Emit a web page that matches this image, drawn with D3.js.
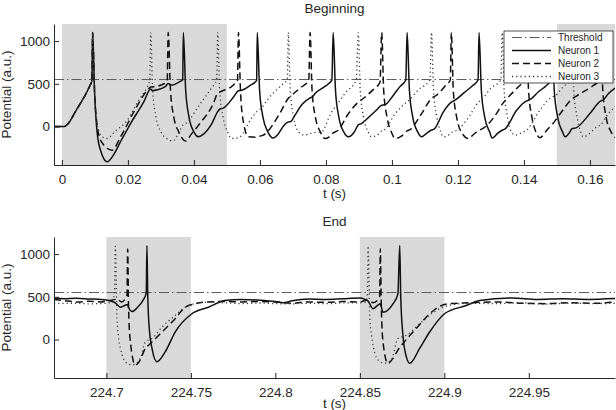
<!DOCTYPE html>
<html>
<head>
<meta charset="utf-8">
<script src="https://cdn.jsdelivr.net/npm/d3@7"></script>
<style>
  body { margin: 0; background: #fff; }
  svg { font-family: "Liberation Sans", Arial, Helvetica, sans-serif; }
</style>
</head>
<body>
<svg id="chart" width="616" height="410"></svg>
<script>
// Values: [t (s), potential (a.u.)]
var threshold = 550;
var yTicks = [0, 500, 1000];
var yTickLabels = ["0", "500", "1000"];

var begTicks = [0, 0.02, 0.04, 0.06, 0.08, 0.1, 0.12, 0.14, 0.16];
var begTickLabels = ["0", "0.02", "0.04", "0.06", "0.08", "0.1", "0.12", "0.14", "0.16"];
var begShade = [[0, 0.05], [0.15, 0.1676]];

var endTicks = [224.7, 224.75, 224.8, 224.85, 224.9, 224.95];
var endTickLabels = ["224.7", "224.75", "224.8", "224.85", "224.9", "224.95"];
var endShade = [[224.7, 224.75], [224.85, 224.9]];

var begNeuron1 = [
  [-0.0024, 0], [0.0005, 0], [0.002, 40], [0.004, 170], [0.0065, 330], [0.0085, 480], [0.0091, 540],
  [0.0093, 1100], [0.0099, 400], [0.0107, -80], [0.0118, -290], [0.0137, -413], [0.0155, -340],
  [0.018, -160], [0.0208, 35], [0.0248, 289], [0.0269, 440], [0.0274, 420], [0.0289, 430],
  [0.0314, 470], [0.0322, 505], [0.0329, 488], [0.0336, 485], [0.0352, 515], [0.0366, 548],
  [0.0368, 1100], [0.0375, 425], [0.0385, 113], [0.04, -62], [0.0413, -118], [0.043, -85],
  [0.0455, 40], [0.0472, 175], [0.0479, 205], [0.0489, 215], [0.052, 345], [0.0535, 420],
  [0.0545, 425], [0.057, 480], [0.059, 540],
  [0.0592, 1100], [0.0599, 425], [0.0609, 113], [0.0624, -62], [0.064, -135], [0.0655, -90],
  [0.0672, 10], [0.0686, 55], [0.0694, 60], [0.0706, 132], [0.0728, 260], [0.0752, 335],
  [0.076, 350], [0.0767, 386], [0.0795, 465], [0.0818, 542],
  [0.0822, 1100], [0.0829, 425], [0.0839, 113], [0.0854, -62], [0.0868, -120], [0.0885, -70],
  [0.0898, 20], [0.0908, 35], [0.093, 110], [0.0955, 200], [0.0969, 250], [0.0979, 255],
  [0.1005, 370], [0.1025, 470], [0.1042, 545],
  [0.1046, 1100], [0.1053, 425], [0.1063, 113], [0.1078, -62], [0.109, -120], [0.1105, -80],
  [0.112, -40], [0.1128, -30], [0.1156, 172], [0.118, 285], [0.1191, 308], [0.122, 400],
  [0.1245, 480], [0.1261, 545],
  [0.1264, 1100], [0.1271, 425], [0.1281, 113], [0.1296, -62], [0.1304, -135], [0.132, -80],
  [0.1334, -43], [0.1342, -30], [0.1378, 190], [0.1408, 300], [0.1416, 310], [0.1445, 410],
  [0.1469, 484], [0.1482, 545],
  [0.1485, 1100], [0.1492, 425], [0.1502, 113], [0.1517, -62], [0.1525, -120], [0.154, -60],
  [0.1545, -25], [0.1558, -15], [0.16, 152], [0.1633, 300], [0.164, 310], [0.1655, 380],
  [0.1676, 450]
];

var begNeuron2 = [
  [-0.0024, 0], [0.0005, 0], [0.002, 40], [0.004, 170], [0.0065, 330], [0.0085, 480], [0.0091, 540],
  [0.0093, 1100], [0.0099, 400], [0.0108, -20], [0.012, -180], [0.0152, -277], [0.0178, -120],
  [0.0218, 172], [0.0259, 425], [0.0269, 462], [0.0276, 465], [0.0299, 484], [0.0319, 530],
  [0.0322, 1100], [0.0329, 425], [0.0339, 113], [0.0354, -62], [0.0376, -170], [0.039, -100],
  [0.0418, 35], [0.0459, 270], [0.0472, 390], [0.0482, 410], [0.0519, 484], [0.0532, 540],
  [0.0535, 1100], [0.0541, 425], [0.055, 50], [0.0565, -120], [0.0592, -125], [0.0598, -115],
  [0.061, -100], [0.066, 152], [0.0686, 330], [0.0696, 366], [0.0725, 460], [0.0748, 540],
  [0.0752, 1100], [0.0758, 425], [0.0768, 113], [0.0783, -62], [0.0797, -140], [0.081, -120],
  [0.0822, -75], [0.0837, -43], [0.0868, 150], [0.0898, 285], [0.0913, 328], [0.094, 420],
  [0.0964, 520],
  [0.0969, 1100], [0.0975, 425], [0.0985, 113], [0.0998, -62], [0.101, -140], [0.103, -110],
  [0.1046, -50], [0.1055, -35], [0.109, 152], [0.112, 330], [0.1135, 366], [0.1165, 490],
  [0.1177, 545],
  [0.118, 1100], [0.1186, 425], [0.1196, 113], [0.121, -62], [0.1232, -140], [0.1248, -90],
  [0.1264, -43], [0.1272, -30], [0.1317, 152], [0.1334, 260], [0.1358, 366], [0.139, 490],
  [0.1405, 545],
  [0.1408, 1100], [0.1414, 425], [0.1424, 113], [0.1436, -62], [0.1448, -132], [0.147, -40],
  [0.1485, 20], [0.151, 150], [0.1545, 320], [0.156, 360], [0.161, 480], [0.163, 545],
  [0.1633, 1100], [0.1639, 425], [0.1649, 113], [0.1664, -62], [0.1676, -130]
];

var begNeuron3 = [
  [-0.0024, 0], [0.0005, 0], [0.002, 40], [0.004, 170], [0.0065, 330], [0.0085, 480], [0.0091, 540],
  [0.0093, 1100], [0.0099, 400], [0.0108, 0], [0.0122, -120], [0.0137, -140], [0.016, -60],
  [0.0198, 74], [0.0233, 308], [0.0255, 440], [0.0266, 540],
  [0.0269, 1100], [0.0275, 425], [0.0285, 113], [0.03, -62], [0.0322, -150], [0.0336, -170],
  [0.035, -100], [0.0368, 20], [0.0375, 35], [0.0418, 260], [0.0455, 460], [0.0469, 545],
  [0.0472, 1100], [0.0478, 425], [0.0488, 113], [0.0502, -62], [0.0514, -140], [0.0535, -130],
  [0.054, -120], [0.0575, 100], [0.0592, 180], [0.06, 200], [0.063, 348], [0.067, 500],
  [0.0683, 545],
  [0.0686, 1100], [0.0692, 425], [0.0702, 113], [0.0717, -62], [0.0736, -100], [0.0752, -80],
  [0.0787, -62], [0.0812, 130], [0.0822, 200], [0.0832, 250], [0.086, 400], [0.0892, 545],
  [0.0898, 1100], [0.0904, 425], [0.0914, 113], [0.0928, -62], [0.0938, -120], [0.0962, -80],
  [0.0969, -50], [0.0976, -43], [0.101, 152], [0.1046, 290], [0.1052, 308], [0.108, 430],
  [0.1115, 545],
  [0.112, 1100], [0.1126, 425], [0.1136, 113], [0.1148, -62], [0.1156, -120], [0.1175, -90],
  [0.118, -70], [0.1188, -62], [0.1226, 74], [0.1264, 290], [0.127, 308], [0.13, 450],
  [0.133, 545],
  [0.1334, 1100], [0.134, 425], [0.135, 113], [0.1362, -62], [0.1373, -100], [0.1395, -70],
  [0.1408, -43], [0.1448, 190], [0.1485, 345], [0.1495, 360], [0.152, 470], [0.1542, 545],
  [0.1545, 1100], [0.1551, 425], [0.1561, 113], [0.157, -40], [0.158, -120], [0.1623, 0],
  [0.1633, 20], [0.165, 120], [0.1676, 235]
];

var endNeuron1 = [
  [224.669, 485], [224.675, 478], [224.682, 482], [224.69, 475], [224.697, 470], [224.7, 462],
  [224.7035, 445], [224.7053, 430], [224.7083, 378], [224.7105, 395], [224.7126, 410],
  [224.713, 380], [224.7152, 328], [224.7185, 378], [224.722, 470], [224.7236, 545],
  [224.724, 1100], [224.7245, 500], [224.7255, 100], [224.727, -104], [224.7299, -260],
  [224.7348, -144], [224.7407, 88], [224.7506, 302], [224.7604, 378], [224.77, 456],
  [224.78, 470], [224.79, 462], [224.8, 445], [224.8047, 430], [224.81, 455], [224.82, 475],
  [224.83, 470], [224.84, 478], [224.85, 485], [224.853, 470], [224.8549, 450], [224.8578, 360],
  [224.8605, 400], [224.8621, 418], [224.8637, 320], [224.8696, 418], [224.8725, 530],
  [224.8736, 1100], [224.8742, 500], [224.8755, 50], [224.8775, -200], [224.8795, -278],
  [224.8854, -104], [224.8913, 88], [224.9001, 302], [224.9129, 398], [224.9208, 456],
  [224.9404, 487], [224.955, 470], [224.97, 478], [224.985, 470], [225.001, 480]
];

var endNeuron2 = [
  [224.669, 470], [224.675, 455], [224.683, 440], [224.69, 448], [224.697, 440], [224.7, 450],
  [224.7053, 470], [224.7063, 475], [224.709, 440], [224.7122, 520],
  [224.7126, 1060], [224.7131, 400], [224.714, 12], [224.7171, -298], [224.72, -240],
  [224.723, -104], [224.725, -66], [224.7329, 88], [224.7407, 244], [224.7466, 378],
  [224.7525, 418], [224.76, 440], [224.77, 445], [224.78, 440], [224.79, 445], [224.8, 440],
  [224.81, 425], [224.82, 440], [224.83, 435], [224.84, 445], [224.85, 440], [224.853, 456],
  [224.8549, 460], [224.858, 430], [224.8617, 500],
  [224.8621, 1063], [224.8627, 400], [224.8637, -28], [224.8666, -278], [224.8696, -220],
  [224.8725, -124], [224.8755, -46], [224.8824, 108], [224.8903, 282], [224.8962, 378],
  [224.902, 418], [224.915, 430], [224.93, 440], [224.945, 425], [224.96, 420], [224.975, 430],
  [224.99, 425], [225.001, 440]
];

var endNeuron3 = [
  [224.669, 420], [224.68, 425], [224.69, 418], [224.7, 425], [224.703, 440], [224.7048, 540],
  [224.7053, 1090], [224.7063, 244], [224.7083, -104], [224.7122, -278], [224.7152, -298],
  [224.7201, -220], [224.723, -28], [224.727, 12], [224.7329, 146], [224.7407, 282],
  [224.7486, 398], [224.7585, 436], [224.77, 430], [224.78, 420], [224.79, 428], [224.8, 420],
  [224.81, 418], [224.82, 425], [224.83, 420], [224.84, 428], [224.85, 430], [224.8535, 440],
  [224.8545, 540],
  [224.8549, 1094], [224.8559, 244], [224.8569, 50], [224.8608, -240], [224.8647, -278],
  [224.8686, -240], [224.8725, 12], [224.8775, 50], [224.8844, 166], [224.8923, 302],
  [224.9021, 398], [224.915, 425], [224.93, 420], [224.945, 430], [224.96, 415], [224.975, 425],
  [224.99, 420], [225.001, 425]
];

var legendNames = ["Threshold", "Neuron 1", "Neuron 2", "Neuron 3"];

// styles
var ink = "#262626";
var styles = [
  { color: "#5a5a5a", width: 1, dash: "10,3,1.5,3" },
  { color: "#111", width: 1.5, dash: null },
  { color: "#111", width: 1.5, dash: "7,4" },
  { color: "#3a3a3a", width: 1.3, dash: "1.2,3" }
];

var svg = d3.select("#chart");
var left = 54, right = 615;

function panel(cfg) {
  var x = d3.scaleLinear().domain(cfg.xDomain).range([left, right]);
  var y = d3.scaleLinear().domain([-450, 1200]).range([cfg.bottom, cfg.top]);
  var g = svg.append("g");

  g.append("clipPath").attr("id", cfg.id)
    .append("rect")
    .attr("x", left).attr("y", cfg.top)
    .attr("width", right - left).attr("height", cfg.bottom - cfg.top);

  // shaded windows
  g.selectAll("rect.shade")
    .data(cfg.shade).enter()
    .append("rect")
    .attr("class", "shade")
    .attr("x", function(d) { return x(d[0]); })
    .attr("width", function(d) { return x(Math.min(d[1], cfg.xDomain[1])) - x(d[0]); })
    .attr("y", cfg.top)
    .attr("height", cfg.bottom - cfg.top)
    .style("fill", "#d9d9d9");

  var line = d3.line()
    .x(function(d) { return x(d[0]); })
    .y(function(d) { return y(d[1]); })
    .curve(d3.curveMonotoneX);

  var lines = g.append("g").attr("clip-path", "url(#" + cfg.id + ")");

  // threshold
  lines.append("line")
    .attr("x1", left).attr("x2", right)
    .attr("y1", y(threshold)).attr("y2", y(threshold))
    .style("stroke", styles[0].color)
    .style("stroke-width", styles[0].width)
    .style("stroke-dasharray", styles[0].dash);

  cfg.series.forEach(function(s, i) {
    var st = styles[i + 1];
    lines.append("path")
      .datum(s)
      .attr("d", line)
      .style("fill", "none")
      .style("stroke", st.color)
      .style("stroke-width", st.width)
      .style("stroke-dasharray", st.dash)
      .style("stroke-linejoin", "round");
  });

  // axes, ticks pointing inward
  var xAxis = g.append("g")
    .attr("transform", "translate(0," + cfg.bottom + ")")
    .call(d3.axisBottom(x)
      .tickValues(cfg.ticks)
      .tickFormat(function(d, i) { return cfg.tickLabels[i]; })
      .tickSizeInner(-5).tickSizeOuter(0).tickPadding(9));

  var yAxis = g.append("g")
    .attr("transform", "translate(" + left + ",0)")
    .call(d3.axisLeft(y)
      .tickValues(yTicks)
      .tickFormat(function(d, i) { return yTickLabels[i]; })
      .tickSizeInner(-5).tickSizeOuter(0).tickPadding(4));

  [xAxis, yAxis].forEach(function(a) {
    a.select(".domain").style("stroke", ink);
    a.selectAll(".tick line").style("stroke", ink);
    a.selectAll("text").style("font-size", "13.5px").style("fill", ink)
      .style("font-family", "'Liberation Sans', Arial, sans-serif");
  });

  g.append("text")
    .attr("x", (left + right) / 2).attr("y", cfg.top - 11)
    .style("text-anchor", "middle").style("font-size", "13.5px").style("fill", ink)
    .text(cfg.title);

  g.append("text")
    .attr("x", (left + right) / 2).attr("y", Math.min(cfg.bottom + 33, 408))
    .style("text-anchor", "middle").style("font-size", "13.5px").style("fill", ink)
    .text("t (s)");

  g.append("text")
    .attr("transform", "translate(10.5," + (cfg.top + cfg.bottom) / 2 + ") rotate(-90)")
    .style("text-anchor", "middle").style("font-size", "13.5px").style("fill", ink)
    .text("Potential (a.u.)");
}

panel({
  id: "clipBeg", title: "Beginning", top: 24, bottom: 165,
  xDomain: [-0.0024, 0.1676], ticks: begTicks, tickLabels: begTickLabels,
  shade: begShade, series: [begNeuron1, begNeuron2, begNeuron3]
});

panel({
  id: "clipEnd", title: "End", top: 237, bottom: 378,
  xDomain: [224.669, 225.001], ticks: endTicks, tickLabels: endTickLabels,
  shade: endShade, series: [endNeuron1, endNeuron2, endNeuron3]
});

// legend
var legend = svg.append("g").attr("transform", "translate(504,31)");
legend.append("rect")
  .attr("width", 109).attr("height", 52)
  .style("fill", "#fff").style("stroke", ink).style("stroke-width", 0.8);

var items = legend.selectAll("g.item")
  .data(legendNames).enter()
  .append("g")
  .attr("transform", function(d, i) { return "translate(0," + (6.5 + i * 13) + ")"; });

items.append("line")
  .attr("x1", 8).attr("x2", 47)
  .style("stroke", function(d, i) { return styles[i].color; })
  .style("stroke-width", function(d, i) { return styles[i].width; })
  .style("stroke-dasharray", function(d, i) { return styles[i].dash; });

items.append("text")
  .attr("x", 54).attr("dy", "0.35em")
  .style("font-size", "10px").style("fill", ink)
  .text(function(d) { return d; });
</script>
</body>
</html>
